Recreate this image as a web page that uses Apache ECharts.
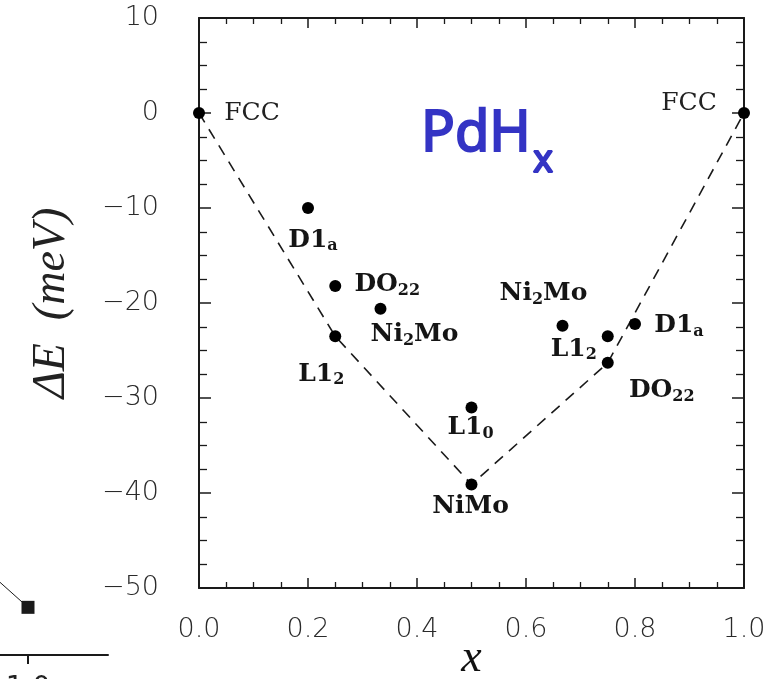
<!DOCTYPE html>
<html>
<head>
<meta charset="utf-8">
<script src="https://cdn.jsdelivr.net/npm/echarts@6/dist/echarts.min.js"></script>
<style>
  html, body { margin: 0; padding: 0; background: #fff; }
  #chart { width: 784px; height: 679px; }
</style>
</head>
<body>
<div id="chart"></div>
<script>
// Ordered structures of PdHx: composition x and formation energy (meV)
const phaseNames = ['FCC', 'D1_{a}', 'DO_{22}', 'Ni_{2}Mo', 'L1_{2}', 'L1_{0}', 'NiMo',
                    'Ni_{2}Mo', 'L1_{2}', 'D1_{a}', 'DO_{22}', 'FCC'];
const composition = [0.0, 0.2, 0.25, 0.333, 0.25, 0.5, 0.5, 0.667, 0.75, 0.8, 0.75, 1.0];
const formationEnergy = [0.0, -10.0, -18.2, -20.6, -23.5, -31.0, -39.1, -22.4, -23.5, -22.2, -26.3, 0.0];

// Structures lying on the ground-state (convex hull) line
const hullIndices = [0, 4, 6, 10, 11];

// Tick labels
const xTickValues = [0.0, 0.2, 0.4, 0.6, 0.8, 1.0];
const xTickLabels = ['0.0', '0.2', '0.4', '0.6', '0.8', '1.0'];
const yTickValues = [10, 0, -10, -20, -30, -40, -50];
const yTickLabels = ['10', '0', '\u221210', '\u221220', '\u221230', '\u221240', '\u221250'];

// Edge of the neighbouring panel (bottom-left corner)
const sidePanelX = [0.0, 1.0];
const sidePanelY = [1.25, 0.5];
const sidePanelTickLabels = ['0.0', '1.0', '2.0'];

// Label placement for each structure: offset of label centre from the point
const labelOffsets = [
  [53, 0], [5, 32], [52, -1], [34, 26], [-14, 38], [-1, 20], [-1, 22],
  [-19, -32], [-34, 13], [44, 2], [54, 28], [-55, -10]
];

function pickLabel(values, labels, v) {
  for (let i = 0; i < values.length; i++) {
    if (Math.abs(values[i] - v) < 1e-6) return labels[i];
  }
  return '';
}

function richName(name) {
  if (name === 'FCC') return '{f|FCC}';
  const parts = name.split(/_\{([^}]*)\}/);
  return parts.map((p, i) => p === '' ? '' : (i % 2 ? '{s|' + p + '}' : '{n|' + p + '}')).join('');
}

const serif = 'DejaVu Serif';
const tickFont = { fontFamily: 'DejaVu Sans', fontSize: 27, color: '#2a2a2a', fontWeight: 200 };
const axisLineStyle = { color: '#1a1a1a', width: 2 };

function xAxisCfg(pos, showLabel) {
  return {
    type: 'value', gridIndex: 0, position: pos, min: 0, max: 1, interval: 0.2,
    axisLine: { show: true, onZero: false, lineStyle: axisLineStyle },
    axisTick: { show: true, inside: true, length: 10, lineStyle: { color: '#1a1a1a', width: 1.5 } },
    minorTick: { show: true, splitNumber: 4, length: 6, lineStyle: { color: '#1a1a1a', width: 1.3 } },
    splitLine: { show: false },
    axisLabel: Object.assign({
      show: showLabel, margin: 28,
      formatter: v => pickLabel(xTickValues, xTickLabels, v)
    }, tickFont)
  };
}

function yAxisCfg(pos, showLabel) {
  return {
    type: 'value', gridIndex: 0, position: pos, min: -50, max: 10, interval: 10,
    axisLine: { show: true, onZero: false, lineStyle: axisLineStyle },
    axisTick: { show: true, inside: true, length: 12, lineStyle: { color: '#1a1a1a', width: 1.5 } },
    minorTick: { show: true, splitNumber: 4, length: 8, lineStyle: { color: '#1a1a1a', width: 1.3 } },
    splitLine: { show: false },
    axisLabel: Object.assign({
      show: showLabel, margin: 40,
      formatter: v => pickLabel(yTickValues, yTickLabels, v)
    }, tickFont)
  };
}

const xMain = xAxisCfg('bottom', true);
xMain.name = 'x';
xMain.nameLocation = 'middle';
xMain.nameGap = 48;
xMain.nameMoveOverlap = false;
xMain.nameTextStyle = { fontFamily: 'Liberation Serif', fontStyle: 'italic', fontSize: 46, color: '#111' };

const yMain = yAxisCfg('left', true);
yMain.name = '\u0394E  (meV)';
yMain.nameLocation = 'middle';
yMain.nameGap = 124;
yMain.nameMoveOverlap = false;
yMain.nameTextStyle = { fontFamily: 'Liberation Serif', fontStyle: 'italic', fontSize: 46, color: '#222' };

const structurePoints = composition.map((x, i) => ({
  value: [x, formationEnergy[i]],
  name: phaseNames[i],
  label: { offset: labelOffsets[i] }
}));

const hullLine = hullIndices.map(i => [composition[i], formationEnergy[i]]);

const chart = echarts.init(document.getElementById('chart'), null, { renderer: 'canvas' });

chart.setOption({
  backgroundColor: '#ffffff',
  animation: false,
  title: [
    {
      text: 'PdH', left: 421, top: 107, padding: 0,
      textStyle: {
        fontFamily: 'Noto Sans', fontSize: 56, fontWeight: 'normal', color: '#3434c4',
        textBorderColor: '#3434c4', textBorderWidth: 2
      }
    },
    {
      text: 'x', left: 533, top: 142, padding: 0,
      textStyle: {
        fontFamily: 'Noto Sans', fontSize: 38, fontWeight: 'normal', color: '#3434c4',
        textBorderColor: '#3434c4', textBorderWidth: 2
      }
    }
  ],
  grid: [
    { left: 199, right: 40, top: 18, bottom: 91, outerBoundsMode: 'none', containLabel: false },
    { left: -52, width: 160, top: 512, bottom: 24, outerBoundsMode: 'none', containLabel: false }
  ],
  xAxis: [
    xMain,
    xAxisCfg('top', false),
    {
      type: 'value', gridIndex: 1, min: 0, max: 2, interval: 1,
      axisLine: { show: true, onZero: false, lineStyle: axisLineStyle },
      axisTick: { show: true, length: 9, lineStyle: { color: '#1a1a1a', width: 2 } },
      splitLine: { show: false },
      axisLabel: {
        margin: 20, fontFamily: 'DejaVu Sans', fontSize: 28, color: '#222',
        showMaxLabel: false,
        formatter: v => pickLabel([0, 1, 2], sidePanelTickLabels, v)
      }
    }
  ],
  yAxis: [
    yMain,
    yAxisCfg('right', false),
    { type: 'value', gridIndex: 1, min: 0, max: 1.5, show: false }
  ],
  series: [
    {
      type: 'line', xAxisIndex: 0, yAxisIndex: 0,
      data: hullLine, symbol: 'none', silent: true, z: 2,
      lineStyle: { color: '#1a1a1a', width: 1.6, type: [11, 8] }
    },
    {
      type: 'scatter', xAxisIndex: 0, yAxisIndex: 0,
      data: structurePoints, symbol: 'circle', symbolSize: 12, z: 3,
      itemStyle: { color: '#000', opacity: 1 },
      label: {
        show: true, position: 'inside', align: 'center', verticalAlign: 'middle',
        color: '#111',
        formatter: p => richName(p.name),
        rich: {
          n: { fontFamily: serif, fontWeight: 'bold', fontSize: 25, lineHeight: 28, color: '#151515' },
          s: { fontFamily: serif, fontWeight: 'bold', fontSize: 16, lineHeight: 12, verticalAlign: 'bottom', color: '#151515' },
          f: { fontFamily: serif, fontWeight: 'normal', fontSize: 25, lineHeight: 28, color: '#222' }
        }
      }
    },
    {
      type: 'line', xAxisIndex: 2, yAxisIndex: 2,
      data: sidePanelX.map((x, i) => [x, sidePanelY[i]]),
      symbol: 'rect', symbolSize: 13, silent: true,
      itemStyle: { color: '#1a1a1a' },
      lineStyle: { color: '#1a1a1a', width: 1 }
    }
  ]
});
</script>
</body>
</html>
